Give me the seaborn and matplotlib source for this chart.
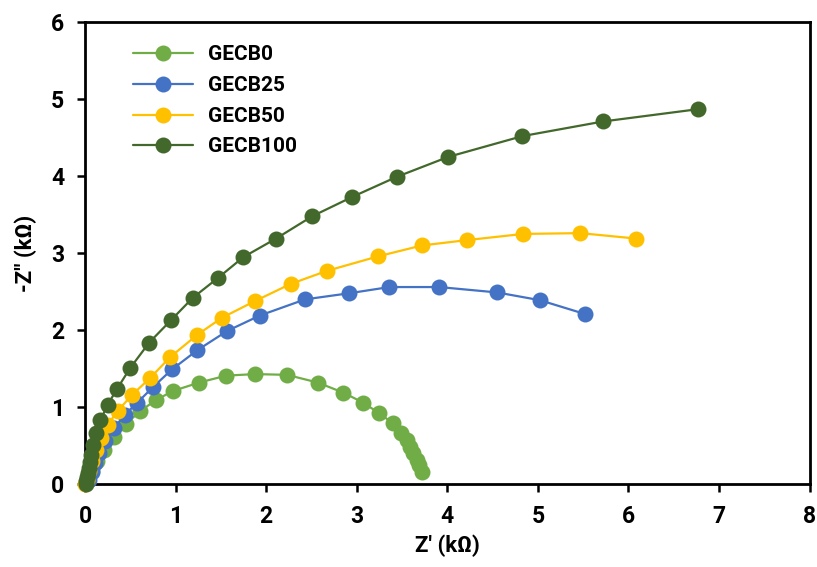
import matplotlib
matplotlib.use("Agg")
import matplotlib.pyplot as plt
import seaborn as sns
import pandas as pd

series_names = ["GECB0", "GECB25", "GECB50", "GECB100"]

gecb0_x = [0.03, 0.08, 0.13, 0.21, 0.32, 0.45, 0.61, 0.78, 0.97, 1.26, 1.56, 1.88, 2.23, 2.57,
           2.85, 3.07, 3.25, 3.40, 3.49, 3.55, 3.59, 3.62, 3.67, 3.69, 3.72]
gecb0_y = [0.06, 0.17, 0.30, 0.44, 0.61, 0.78, 0.95, 1.09, 1.21, 1.32, 1.41, 1.43, 1.42, 1.32,
           1.19, 1.06, 0.92, 0.79, 0.66, 0.57, 0.48, 0.40, 0.32, 0.25, 0.16]

gecb25_x = [0.05, 0.08, 0.11, 0.15, 0.22, 0.32, 0.44, 0.57, 0.75, 0.96, 1.24, 1.57, 1.93, 2.43,
            2.92, 3.36, 3.91, 4.55, 5.02, 5.52]
gecb25_y = [0.06, 0.16, 0.27, 0.40, 0.56, 0.73, 0.90, 1.05, 1.26, 1.49, 1.74, 1.99, 2.19, 2.40,
            2.48, 2.56, 2.56, 2.49, 2.39, 2.21]

gecb50_x = [0.0, 0.02, 0.04, 0.08, 0.12, 0.18, 0.25, 0.36, 0.52, 0.72, 0.94, 1.24, 1.51, 1.88,
            2.27, 2.67, 3.24, 3.72, 4.22, 4.84, 5.47, 6.08]
gecb50_y = [0.0, 0.06, 0.17, 0.30, 0.44, 0.60, 0.77, 0.95, 1.16, 1.38, 1.65, 1.94, 2.16, 2.38,
            2.60, 2.77, 2.96, 3.10, 3.17, 3.25, 3.26, 3.19]

gecb100_x = [0.01, 0.015, 0.025, 0.035, 0.045, 0.055, 0.07, 0.09, 0.12, 0.17, 0.25, 0.35, 0.50,
             0.71, 0.95, 1.19, 1.47, 1.75, 2.11, 2.51, 2.95, 3.44, 4.01, 4.83, 5.72, 6.77]
gecb100_y = [0.0, 0.04, 0.09, 0.14, 0.21, 0.29, 0.38, 0.51, 0.66, 0.83, 1.03, 1.23, 1.51,
             1.84, 2.13, 2.42, 2.68, 2.95, 3.19, 3.48, 3.73, 3.99, 4.25, 4.52, 4.71, 4.87]

colors = ["#70AD47", "#4472C4", "#FFC000", "#43682B"]

xs = [gecb0_x, gecb25_x, gecb50_x, gecb100_x]
ys = [gecb0_y, gecb25_y, gecb50_y, gecb100_y]

sns.set_style("white")
plt.rcParams["font.family"] = ["Roboto", "DejaVu Sans"]
plt.rcParams["font.weight"] = "bold"
plt.rcParams["text.color"] = "black"
plt.rcParams["axes.labelcolor"] = "black"
plt.rcParams["xtick.color"] = "black"
plt.rcParams["ytick.color"] = "black"

fig = plt.figure(figsize=(8.17, 5.67), dpi=100)
ax = fig.add_axes([0.104, 0.146, 0.887, 0.815])

for name, x, y, c in zip(series_names, xs, ys, colors):
    df = pd.DataFrame({"x": x, "y": y})
    sns.lineplot(data=df, x="x", y="y", sort=False, ax=ax, color=c, linewidth=1.6,
                 marker="o", markersize=11.5, markeredgewidth=0, label=name,
                 clip_on=False, zorder=3)

ax.set_xlim(0, 8)
ax.set_ylim(0, 6)
ax.set_xticks(range(0, 9))
ax.set_yticks(range(0, 7))
ax.set_xlabel("Z' (kΩ)", fontsize=16, fontweight="bold", labelpad=5)
ax.set_ylabel("-Z'' (kΩ)", fontsize=16, fontweight="bold", labelpad=10)
ax.tick_params(axis="both", direction="out", length=6, width=1.8, labelsize=16.5,
               bottom=True, left=True, pad=9)
for lab in ax.get_xticklabels() + ax.get_yticklabels():
    lab.set_fontweight("bold")
for sp in ax.spines.values():
    sp.set_visible(True)
    sp.set_color("black")
    sp.set_linewidth(2)

leg = ax.legend(loc="upper left", bbox_to_anchor=(0.04, 0.99), frameon=False,
                prop={"size": 15, "weight": "bold"}, handlelength=2.9,
                labelspacing=0.56, handletextpad=0.7)

fig.savefig("out.png", dpi=100)
